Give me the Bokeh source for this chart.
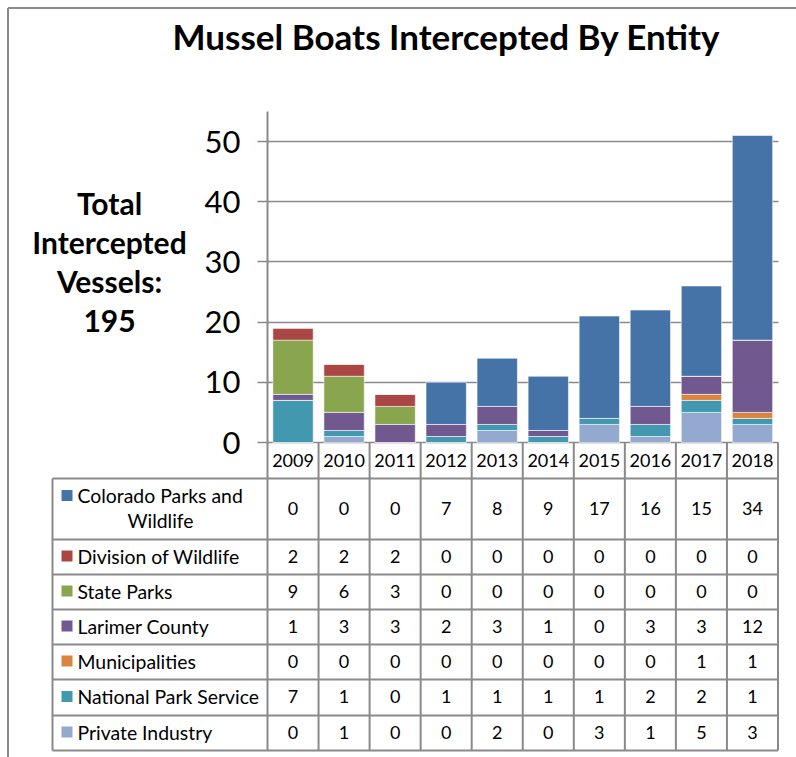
from bokeh.plotting import figure
from bokeh.models import (ColumnDataSource, Range1d, LinearAxis, FixedTicker, Grid)
from bokeh.core.properties import value
from bokeh.embed import file_html
from bokeh.resources import INLINE

# ---------------- data ----------------
years = ["2009", "2010", "2011", "2012", "2013", "2014", "2015", "2016", "2017", "2018"]
colorado_parks = [0, 0, 0, 7, 8, 9, 17, 16, 15, 34]
division_wildlife = [2, 2, 2, 0, 0, 0, 0, 0, 0, 0]
state_parks = [9, 6, 3, 0, 0, 0, 0, 0, 0, 0]
larimer_county = [1, 3, 3, 2, 3, 1, 0, 3, 3, 12]
municipalities = [0, 0, 0, 0, 0, 0, 0, 0, 1, 1]
national_park_service = [7, 1, 0, 1, 1, 1, 1, 2, 2, 1]
private_industry = [0, 1, 0, 0, 2, 0, 3, 1, 5, 3]
series_names = ["Colorado Parks and Wildlife", "Division of Wildlife", "State Parks",
                "Larimer County", "Municipalities", "National Park Service", "Private Industry"]
series_values = [colorado_parks, division_wildlife, state_parks, larimer_county,
                 municipalities, national_park_service, private_industry]
series_colors = ["#4572A7", "#AA4643", "#89A54E", "#71588F", "#DB843D", "#4198AF", "#93A9CF"]
y_ticks = [0, 10, 20, 30, 40, 50]
title_text = "Mussel Boats Intercepted By Entity"
side_lines = ["Total", "Intercepted", "Vessels:"]

# ---------------- geometry (page pixels -> data units) ----------------
PX0, COLW = 267.0, 51.05   # left of first category column, column width
PY0, PXU = 442.0, 6.02     # pixel of value 0, pixels per unit
W, H = 796, 757


def X(px):
    return (px - PX0) / COLW


def Y(py):
    return (PY0 - py) / PXU


FONT = value("Lato")
GRAY = "#8a8a8a"

p = figure(width=W, height=H, output_backend="svg", toolbar_location=None,
           x_range=Range1d(X(0), X(W)), y_range=Range1d(Y(H), Y(0)),
           x_axis_type=None, y_axis_type=None, min_border=0)
p.outline_line_color = None
p.background_fill_color = "white"
p.border_fill_color = "white"

ticker = FixedTicker(ticks=y_ticks)
grid = Grid(dimension=1, ticker=ticker, grid_line_color=GRAY, grid_line_width=1.5)
if "cross_bounds" in Grid.properties():
    grid.cross_bounds = (0, len(years))
p.add_layout(grid)

yaxis = LinearAxis(ticker=ticker, fixed_location=0, bounds=(0, 55))
yaxis.axis_line_color = GRAY
yaxis.axis_line_width = 2
yaxis.major_tick_line_color = GRAY
yaxis.major_tick_line_width = 1.5
yaxis.major_tick_out = 10
yaxis.major_tick_in = 0
yaxis.minor_tick_line_color = None
yaxis.major_label_text_font = "Lato"
yaxis.major_label_text_font_size = "31px"
yaxis.major_label_text_color = "black"
yaxis.major_label_standoff = 17
p.add_layout(yaxis, "left")

# ---------------- stacked bars ----------------
keys = ["s%d" % i for i in range(len(series_names))]
data = {"x": [i + 0.5 for i in range(len(years))]}
for k, vals in zip(keys, series_values):
    data[k] = vals
src = ColumnDataSource(data)
p.vbar_stack(stackers=keys[::-1], x="x", width=0.79, color=series_colors[::-1],
             source=src, line_color="white", line_width=0.8, line_alpha=0.7)

# ---------------- table ----------------
row_edges = [478, 539, 574, 609, 644, 679, 715, 750]
left_px = 52
hx0, hx1, hy0, hy1 = [], [], [], []
for e in row_edges:
    hx0.append(X(left_px)); hx1.append(len(years)); hy0.append(Y(e)); hy1.append(Y(e))
vx0, vy0, vy1 = [], [], []
for i in range(len(years) + 1):
    vx0.append(i); vy0.append(Y(442)); vy1.append(Y(row_edges[-1]))
vx0.append(X(left_px)); vy0.append(Y(row_edges[0])); vy1.append(Y(row_edges[-1]))
p.segment(x0=hx0, y0=hy0, x1=hx1, y1=hy1, line_color=GRAY, line_width=2)
p.segment(x0=vx0, y0=vy0, x1=vx0, y1=vy1, line_color=GRAY, line_width=2)

# outer frame
p.segment(x0=[X(7.5), X(7.5)], y0=[Y(7.5), Y(7.5)], x1=[X(7.5), X(W)], y1=[Y(H), Y(7.5)],
          line_color=GRAY, line_width=2)

# year header
p.text(x=[i + 0.5 for i in range(len(years))], y=[Y(460)] * len(years), text=years,
       text_font=FONT, text_font_size=value("18px"), text_align="center",
       text_baseline="middle", text_color="black")

# cell values
cx, cy, ct = [], [], []
for r, vals in enumerate(series_values):
    yc = Y((row_edges[r] + row_edges[r + 1]) / 2.0 - 1)
    for i, v in enumerate(vals):
        cx.append(i + 0.5); cy.append(yc); ct.append(str(v))
p.text(x=cx, y=cy, text=ct, text_font=FONT, text_font_size=value("18px"),
       text_align="center", text_baseline="middle", text_color="black")

# legend column
sw_y = [Y(495)] + [Y((row_edges[r] + row_edges[r + 1]) / 2.0 - 1) for r in range(1, len(series_names))]
p.scatter(x=[X(66.5)] * len(series_names), y=sw_y, marker="square", size=11,
          color=series_colors, line_color=None)
first = series_names[0].rsplit(" ", 1)
p.text(x=[X(77)] * len(series_names), y=sw_y,
       text=[first[0]] + series_names[1:], text_font=FONT, text_font_size=value("19.4px"),
       text_align="left", text_baseline="middle", text_color="black")
p.text(x=[X(160)], y=[Y(520)], text=[first[1]], text_font=FONT,
       text_font_size=value("19.4px"), text_align="center", text_baseline="middle",
       text_color="black")

# title and total
p.text(x=[X(446)], y=[Y(35)], text=[title_text], text_font=FONT,
       text_font_size=value("35px"), text_font_style="bold", text_align="center",
       text_baseline="middle", text_color="black")
total = sum(sum(v) for v in series_values)
p.text(x=[X(109)] * 4, y=[Y(202), Y(241), Y(280), Y(320)], text=side_lines + [str(total)],
       text_font=FONT, text_font_size=value("30px"), text_font_style="bold",
       text_align="center", text_baseline="middle", text_color="black")

open("out.html", "w").write(file_html(p, INLINE))
